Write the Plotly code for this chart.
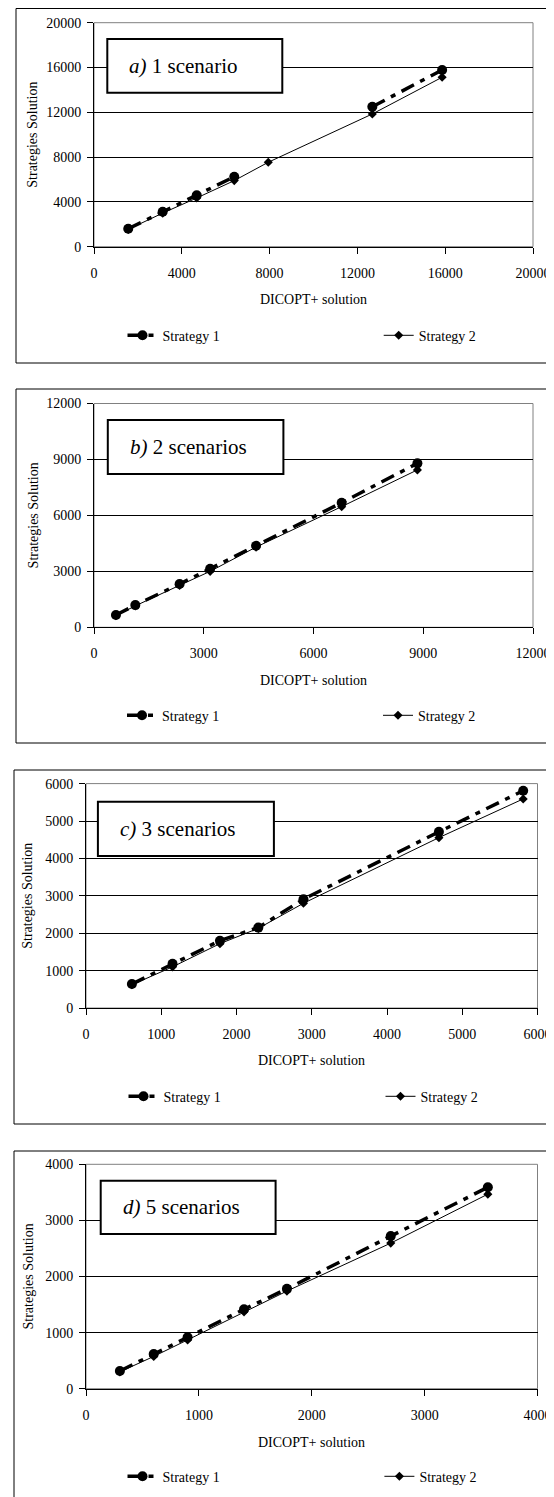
import plotly.graph_objects as go

W, H = 554, 1497          # browser window
OFF = 8                   # default page margin around the plot div
FW, FH = W - OFF, H - OFF  # figure size so that it fits the window
FONT = "Liberation Serif, Times New Roman, serif"

# ---------------- data ----------------
# a) 1 scenario
a_x = [1560, 3130, 4680, 6390, 7940, 12680, 15860]
a_s1 = [1600, 3120, 4600, 6250, None, 12500, 15780]
a_s2 = [1550, 3000, 4350, 5900, 7540, 11850, 15130]
# b) 2 scenarios
b_x = [600, 1130, 2340, 3175, 4430, 6770, 8840]
b_s1 = [660, 1190, 2320, 3140, 4375, 6680, 8790]
b_s2 = [620, 1150, 2250, 3000, 4300, 6470, 8440]
# c) 3 scenarios
c_x = [610, 1150, 1780, 2290, 2890, 4690, 5810]
c_s1 = [640, 1180, 1800, 2150, 2910, 4710, 5810]
c_s2 = [620, 1100, 1720, 2130, 2800, 4555, 5590]
# d) 5 scenarios
d_x = [300, 600, 900, 1400, 1780, 2700, 3560]
d_s1 = [315, 620, 915, 1415, 1780, 2720, 3590]
d_s2 = [300, 575, 870, 1370, 1740, 2595, 3468]

series_names = ["Strategy 1", "Strategy 2"]
panel_letters = ["a)", "b)", "c)", "d)"]
panel_texts = ["1 scenario", "2 scenarios", "3 scenarios", "5 scenarios"]
axis_max = [20000, 12000, 6000, 4000]
axis_step = [4000, 3000, 1000, 1000]
x_title = "DICOPT+ solution"
y_title = "Strategies Solution"

# ---------------- layout geometry (window pixels) ----------------
geo = [
    dict(pl=94, pr=533, pt=22.7, pb=246.7, box=(16, 8.5, 550, 363), lbox=(107.3, 39, 282.3, 92.7),
         ytx=33, xty=299, legy=335.7, legtx=(162.5, 418.7)),
    dict(pl=94, pr=533, pt=403.5, pb=627.3, box=(16, 389, 550, 743), lbox=(107.8, 420, 283.4, 474),
         ytx=33, xty=680, legy=715.7, legtx=(162, 418)),
    dict(pl=86, pr=537.5, pt=783.6, pb=1008, box=(14, 770, 552, 1124), lbox=(97.9, 801.7, 273.9, 856),
         ytx=28, xty=1060, legy=1096.7, legtx=(163.5, 420.5)),
    dict(pl=86, pr=537.5, pt=1164.3, pb=1388.7, box=(14, 1151, 552, 1499), lbox=(100.7, 1180.7, 275.6, 1234),
         ytx=28, xty=1442, legy=1476.7, legtx=(162.5, 419.4)),
]


def fx(v):
    return (v - OFF) / FW


def fy(v):
    return 1 - (v - OFF) / FH


data = [(a_x, a_s1, a_s2), (b_x, b_s1, b_s2), (c_x, c_s1, c_s2), (d_x, d_s1, d_s2)]

fig = go.Figure()
layout = dict(width=FW, height=FH, margin=dict(l=0, r=0, t=0, b=0, autoexpand=False),
              paper_bgcolor="white", plot_bgcolor="white", showlegend=True,
              font=dict(family=FONT, size=14, color="black"))
shapes, annotations = [], []

styles = [
    dict(line=dict(color="black", width=3.5, dash="14px,7px,5px,7px"),
         marker=dict(symbol="circle", size=10, color="black")),
    dict(line=dict(color="black", width=1),
         marker=dict(symbol="diamond", size=7, color="black")),
]

leg_idx = 0
for i, ((xs, s1, s2), g) in enumerate(zip(data, geo)):
    n = "" if i == 0 else str(i + 1)
    xa, ya = "x" + n, "y" + n
    for k, ys in enumerate((s1, s2)):
        leg_idx += 1
        lg = "legend" if leg_idx == 1 else "legend%d" % leg_idx
        fig.add_trace(go.Scatter(
            x=xs, y=ys, name=series_names[k], mode="lines+markers", xaxis=xa, yaxis=ya,
            legend=lg, connectgaps=False, **styles[k]))
        layout[lg] = dict(orientation="h", x=fx(g["legtx"][k] - 40), xanchor="left",
                          y=fy(g["legy"]), yanchor="middle", bgcolor="rgba(0,0,0,0)",
                          font=dict(family=FONT, size=14, color="black"),
                          itemclick=False, itemdoubleclick=False)

    common = dict(range=[0, axis_max[i]], dtick=axis_step[i], tick0=0, tickformat="d",
                  showline=True, linecolor="black", linewidth=1, ticks="outside", ticklen=6,
                  tickcolor="black", tickwidth=1, zeroline=False, fixedrange=True,
                  tickfont=dict(family=FONT, size=14, color="black"))
    layout["xaxis" + n] = dict(common, domain=[fx(g["pl"]), fx(g["pr"])], anchor=ya,
                               showgrid=False, ticklabelstandoff=7)
    layout["yaxis" + n] = dict(common, domain=[fy(g["pb"]), fy(g["pt"])], anchor=xa,
                               showgrid=True, gridcolor="black", gridwidth=1, ticklabelstandoff=3)

    # plot-area border (grey), outer chart frame, label box
    shapes.append(dict(type="rect", xref="paper", yref="paper", layer="below",
                       x0=fx(g["pl"]), x1=fx(g["pr"]), y0=fy(g["pb"]), y1=fy(g["pt"]),
                       line=dict(color="#808080", width=1)))
    bx0, by0, bx1, by1 = g["box"]
    shapes.append(dict(type="rect", xref="paper", yref="paper", layer="below",
                       x0=fx(bx0), x1=fx(bx1), y0=fy(by1), y1=fy(by0),
                       line=dict(color="black", width=1)))
    lx0, ly0, lx1, ly1 = g["lbox"]
    shapes.append(dict(type="rect", xref="paper", yref="paper", layer="above",
                       x0=fx(lx0), x1=fx(lx1), y0=fy(ly1), y1=fy(ly0),
                       line=dict(color="black", width=2), fillcolor="white"))
    annotations.append(dict(xref="paper", yref="paper", x=fx(lx0 + 20), y=fy((ly0 + ly1) / 2),
                            xanchor="left", yanchor="middle", showarrow=False,
                            text="<i>%s</i> %s" % (panel_letters[i], panel_texts[i]),
                            font=dict(family=FONT, size=21, color="black")))
    annotations.append(dict(xref="paper", yref="paper", x=fx((g["pl"] + g["pr"]) / 2), y=fy(g["xty"]),
                            xanchor="center", yanchor="middle", showarrow=False, text=x_title,
                            font=dict(family=FONT, size=14, color="black")))
    annotations.append(dict(xref="paper", yref="paper", x=fx(g["ytx"]), y=fy((g["pt"] + g["pb"]) / 2),
                            xanchor="center", yanchor="middle", showarrow=False, text=y_title,
                            textangle=-90, font=dict(family=FONT, size=14, color="black")))

layout["shapes"] = shapes
layout["annotations"] = annotations
fig.update_layout(**layout)
fig.write_html("out.html")
